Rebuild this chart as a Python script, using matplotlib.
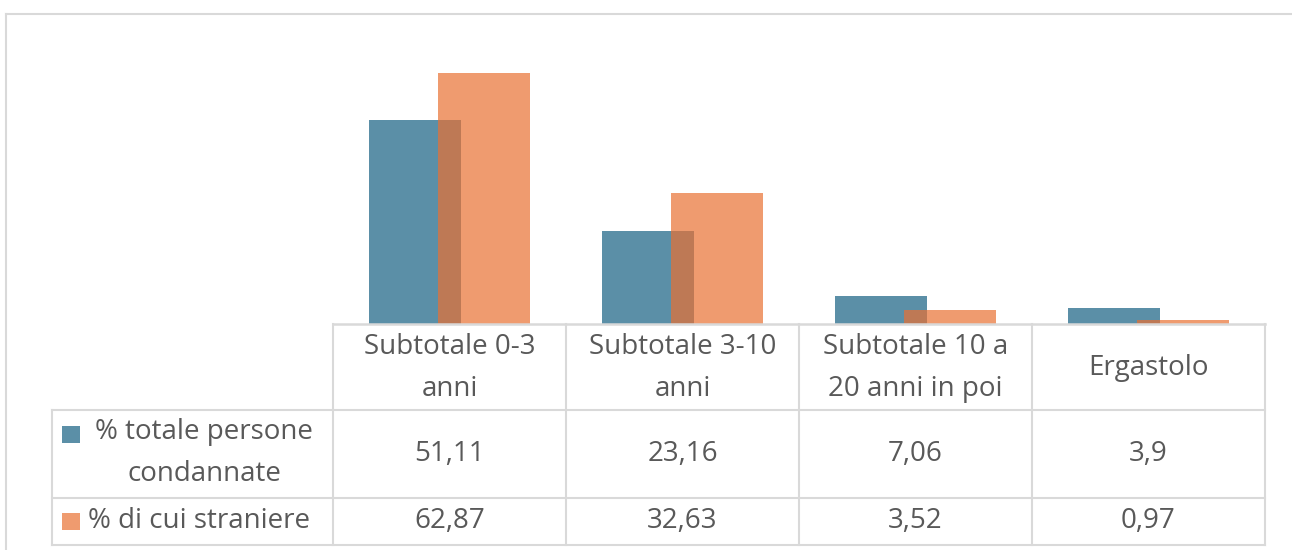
import numpy as np
import matplotlib
matplotlib.use("Agg")
import matplotlib.pyplot as plt
from matplotlib.lines import Line2D
from matplotlib.patches import Rectangle
from matplotlib.transforms import blended_transform_factory

categories = ["Subtotale 0-3\nanni", "Subtotale 3-10\nanni", "Subtotale 10 a\n20 anni in poi", "Ergastolo"]
series_names = ["% totale persone\ncondannate", "% di cui straniere"]
totale = [51.11, 23.16, 7.06, 3.9]
straniere = [62.87, 32.63, 3.52, 0.97]
totale_lbl = ["51,11", "23,16", "7,06", "3,9"]
straniere_lbl = ["62,87", "32,63", "3,52", "0,97"]

colors = ["#156082", "#E97132"]
txt_col = "#595959"
grid_col = "#D9D9D9"
font = "Open Sans"

W, H = 1292, 550
fig = plt.figure(figsize=(W / 100, H / 100), dpi=100)


def fy(py):
    return 1 - py / H


def fx(px):
    return px / W


# plot area: baseline at y=324, x from 333 to 1265
ax = fig.add_axes([fx(333), fy(324), fx(1265) - fx(333), fy(44) - fy(324)])
x = np.arange(len(categories)) + 0.5
w = 0.395
off = 0.148
ax.bar(x - off, totale, w, color=colors[0], alpha=0.7, linewidth=0)
ax.bar(x + off, straniere, w, color=colors[1], alpha=0.7, linewidth=0)
ax.set_xlim(0, len(categories))
ax.set_ylim(0, 70)
ax.axis("off")

# chart border
fig.add_artist(Line2D([fx(6), 1], [fy(14), fy(14)], color=grid_col, lw=1.5))
fig.add_artist(Line2D([fx(6), fx(6)], [fy(14), 0], color=grid_col, lw=1.5))

# data table
tr = blended_transform_factory(ax.transData, fig.transFigure)
row_y = [324, 410, 498, 545]
left_x = (52 - 333) / 233.0
n = len(categories)

fig.add_artist(Line2D([0, n], [fy(row_y[0])] * 2, transform=tr, color=grid_col, lw=1.8))
for ry in row_y[1:]:
    fig.add_artist(Line2D([left_x, n], [fy(ry)] * 2, transform=tr, color=grid_col, lw=1.5))
for i in range(n + 1):
    fig.add_artist(Line2D([i, i], [fy(row_y[0]), fy(row_y[-1])], transform=tr, color=grid_col, lw=1.5))
fig.add_artist(Line2D([left_x, left_x], [fy(row_y[1]), fy(row_y[-1])], transform=tr, color=grid_col, lw=1.5))

fs = 20
ls = 1.7
for i, cat in enumerate(categories):
    fig.text(x[i], fy((row_y[0] + row_y[1]) / 2 + 1), cat, transform=tr, ha="center", va="center",
             fontsize=fs, color=txt_col, family=font, linespacing=ls)
    fig.text(x[i], fy((row_y[1] + row_y[2]) / 2), totale_lbl[i], transform=tr, ha="center", va="center",
             fontsize=fs, color=txt_col, family=font)
    fig.text(x[i], fy((row_y[2] + row_y[3]) / 2), straniere_lbl[i], transform=tr, ha="center", va="center",
             fontsize=fs, color=txt_col, family=font)

# row headers with legend keys
fig.add_artist(Rectangle((fx(62), fy(443)), 18 / W, 17 / H, color=colors[0], alpha=0.7, lw=0))
fig.add_artist(Rectangle((fx(62), fy(530)), 18 / W, 17 / H, color=colors[1], alpha=0.7, lw=0))
fig.text(fx(204), fy(453), series_names[0], ha="center", va="center", fontsize=fs, color=txt_col,
         family=font, linespacing=ls, multialignment="center")
fig.text(fx(88), fy(521), series_names[1], ha="left", va="center", fontsize=fs, color=txt_col, family=font)

fig.savefig("out.png", dpi=100)
